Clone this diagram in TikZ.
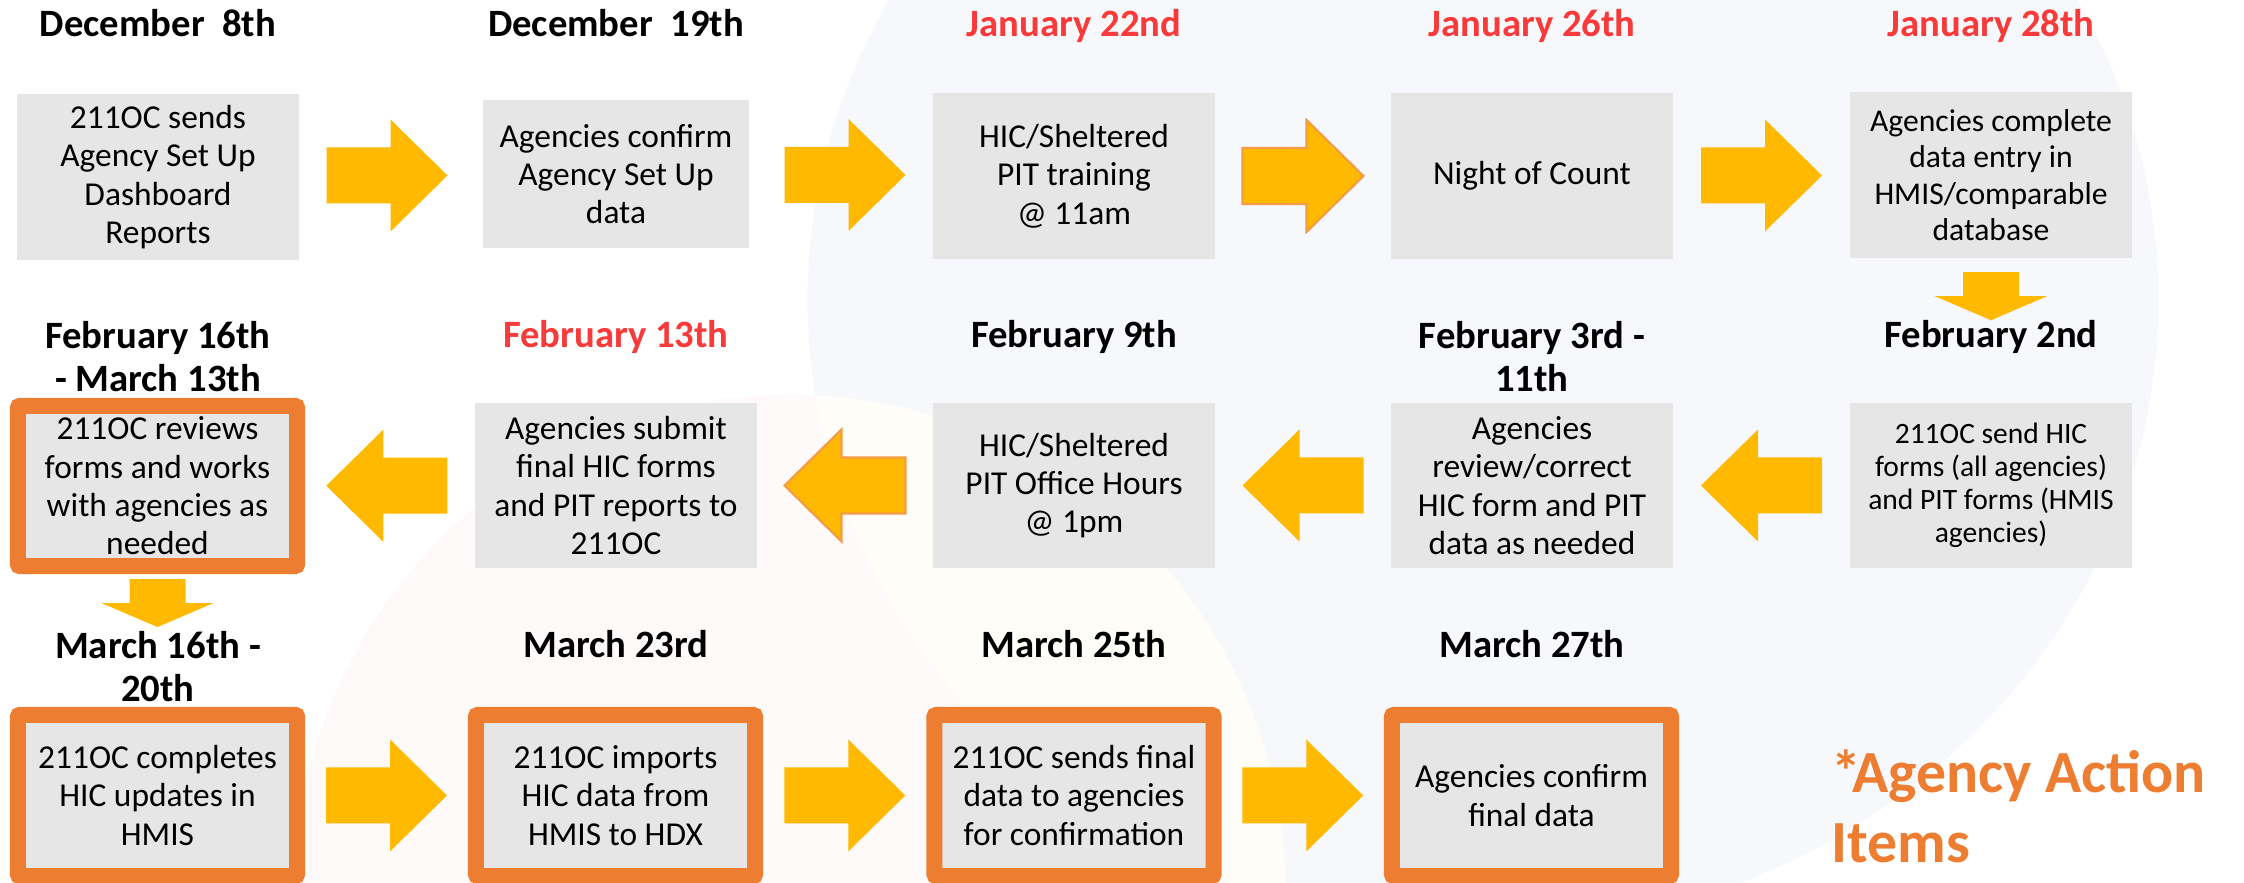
\documentclass[tikz,border=0pt]{standalone}
\usepackage{fontspec}
\setmainfont{Carlito}
\usetikzlibrary{calc}
\definecolor{boxgrey}{HTML}{E6E6E6}
\definecolor{actorange}{HTML}{ED7D31}
\definecolor{arrowgold}{HTML}{FFB900}
\definecolor{arrowedge}{HTML}{F39C45}
\definecolor{datered}{HTML}{F93A3A}
\definecolor{bgblue}{HTML}{F7F8FC}
\definecolor{bgwarm}{HTML}{FDFAF9}
\definecolor{bgcream}{HTML}{FEFDF8}
\tikzset{
  hdr/.style={font=\bfseries\fontsize{11}{12.5}\selectfont, align=center, anchor=base, inner sep=0pt},
  hdrred/.style={hdr, text=datered},
  gbox/.style={fill=boxgrey, inner sep=0pt, align=center, minimum width=2.82cm, minimum height=1.65cm,
    font=\fontsize{9.5}{10.9}\selectfont},
  obox/.style={gbox, draw=actorange, line width=0.16cm, rounded corners=0.02cm,
    minimum width=2.79cm, minimum height=1.6cm},
  blk/.style={fill=arrowgold},
  blkedge/.style={fill=arrowgold, draw=arrowedge, line width=0.6pt},
  pics/rarrow/.style={code={\path[pic actions] (-60.5,-28) -- (3.5,-28) -- (3.5,-56) -- (60.5,0)
      -- (3.5,56) -- (3.5,28) -- (-60.5,28) -- cycle;}},
  pics/larrow/.style={code={\path[pic actions] (60.5,-28) -- (-3.5,-28) -- (-3.5,-56) -- (-60.5,0)
      -- (-3.5,56) -- (-3.5,28) -- (60.5,28) -- cycle;}},
  pics/darrow/.style={code={\path[pic actions] (-28,-24) -- (28,-24) -- (28,0) -- (56,0)
      -- (0,24) -- (-56,0) -- (-28,0) -- cycle;}},
}
\begin{document}
\begin{tikzpicture}[x=0.01cm,y=-0.01cm]
\useasboundingbox (0,0) rectangle (2244,883);
% soft background discs
\begin{scope}
  \clip (0,0) rectangle (2244,883);
  \fill[white] (0,0) rectangle (2244,883);
  \fill[bgblue] (1483,300) ellipse [x radius=6.75cm, y radius=6.3cm];
  \fill[bgwarm] (790,890) circle [radius=4.95cm];
  \begin{scope}
    \clip (1483,300) ellipse [x radius=6.75cm, y radius=6.3cm];
    \fill[bgcream] (790,890) circle [radius=4.95cm];
  \end{scope}
\end{scope}

% first row (multi-line headers are anchored at their last baseline)
\node[hdr] (ha1) at (158,37) {December\ \ 8th};
\node[hdr] (ha2) at (616,37) {December\ \ 19th};
\node[hdrred] (ha3) at (1074,37) {January 22nd};
\node[hdrred] (ha4) at (1532,37) {January 26th};
\node[hdrred] (ha5) at (1991,37) {January 28th};

\node[gbox] (a1) at (158,177) {211OC sends\\Agency Set Up\\Dashboard\\Reports};
\node[gbox, minimum width=2.66cm, minimum height=1.48cm] (a2) at (616,174) {Agencies confirm\\Agency Set Up\\data};
\node[gbox] (a3) at (1074,176) {HIC/Sheltered\\PIT training\\@ 11am};
\node[gbox] (a4) at (1532,176) {Night of Count};
\node[gbox, font=\fontsize{9}{10.4}\selectfont] (a5) at (1991,175) {Agencies complete\\data entry in\\HMIS/comparable\\database};

% second row
\node[hdr] (hb1) at (158,392) {February 16th\\- March 13th};
\node[hdrred] (hb2) at (616,348) {February 13th};
\node[hdr] (hb3) at (1074,348) {February 9th};
\node[hdr] (hb4) at (1532,392) {February 3rd -\\11th};
\node[hdr] (hb5) at (1991,348) {February 2nd};

\node[obox] (b1) at (157.5,486) {211OC reviews\\forms and works\\with agencies as\\needed};
\node[gbox] (b2) at (616,485.5) {Agencies submit\\final HIC forms\\and PIT reports to\\211OC};
\node[gbox] (b3) at (1074,485.5) {HIC/Sheltered\\PIT Office Hours\\@ 1pm};
\node[gbox] (b4) at (1532,485.5) {Agencies\\review/correct\\HIC form and PIT\\data as needed};
\node[gbox, font=\fontsize{8.4}{9.4}\selectfont] (b5) at (1991,485.5) {211OC send HIC\\forms (all agencies)\\and PIT forms (HMIS\\agencies)};

% third row
\node[hdr] (hc1) at (158,702) {March 16th -\\20th};
\node[hdr] (hc2) at (616,658) {March 23rd};
\node[hdr] (hc3) at (1074,658) {March 25th};
\node[hdr] (hc4) at (1532,658) {March 27th};

\node[obox, minimum height=1.61cm] (c1) at (157.5,795.5) {211OC completes\\HIC updates in\\HMIS};
\node[obox, minimum height=1.61cm] (c2) at (615.5,795.5) {211OC imports\\HIC data from\\HMIS to HDX};
\node[obox, minimum height=1.61cm] (c3) at (1074,795.5) {211OC sends final\\data to agencies\\for confirmation};
\node[obox, minimum height=1.61cm] (c4) at (1531.5,795.5) {Agencies confirm\\final data};

\node[font=\bfseries\fontsize{17}{20}\selectfont, text=actorange, align=left, anchor=base west, inner sep=0pt]
  (legend) at (1831,863) {*\kern-2.5pt Agency Action\\Items};

% block arrows between steps
\pic[blk] at ($(a1)!0.5!(a2)$) {rarrow};
\pic[blk] at ($(a2)!0.5!(a3)$) {rarrow};
\pic[blkedge] at ($(a3)!0.5!(a4)$) {rarrow};
\pic[blk] at ($(a4)!0.5!(a5)$) {rarrow};
\pic[blk] at ($(a5.south)+(0,38)$) {darrow};

\pic[blk] at ($(b5)!0.5!(b4)$) {larrow};
\pic[blk] at ($(b4)!0.5!(b3)$) {larrow};
\pic[blkedge] at ($(b3)!0.5!(b2)$) {larrow};
\pic[blk] at ($(b2)!0.5!(b1)$) {larrow};
\pic[blk] at ($(b1.south)+(0,29)$) {darrow};

\pic[blk] at ($(c1)!0.5!(c2)$) {rarrow};
\pic[blk] at ($(c2)!0.5!(c3)$) {rarrow};
\pic[blk] at ($(c3)!0.5!(c4)$) {rarrow};
\end{tikzpicture}
\end{document}
